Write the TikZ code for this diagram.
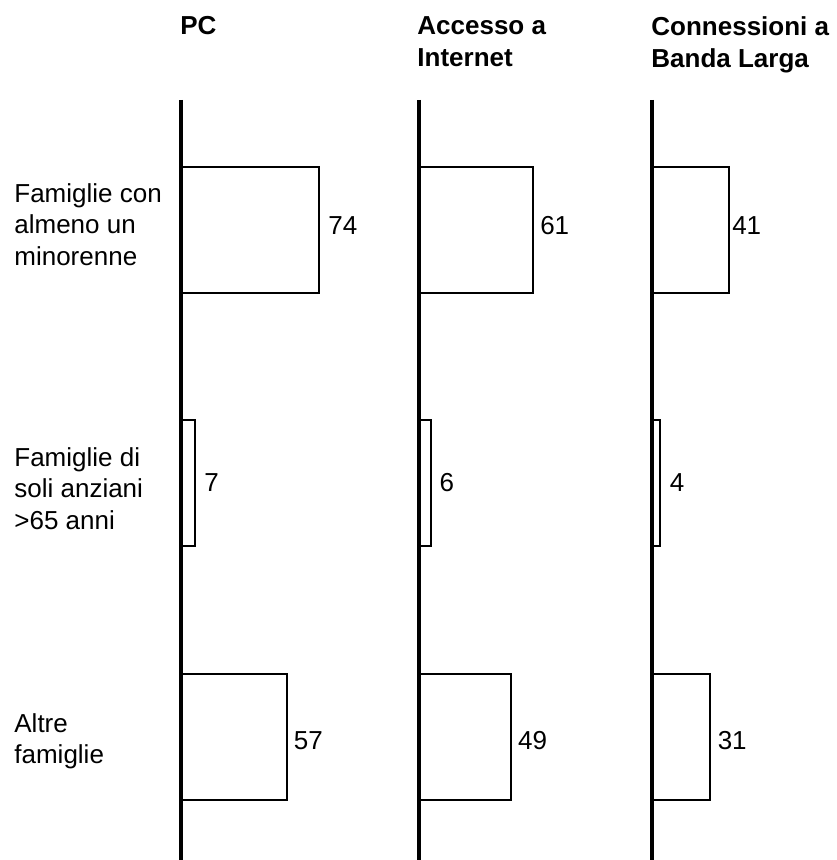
\documentclass[tikz,border=0pt]{standalone}
\usepackage{fontspec}
\setmainfont{Liberation Sans}
\usetikzlibrary{positioning}

\begin{document}
\begin{tikzpicture}[x = 0.5pt, y = -0.5pt,
		axis/.style={line width = 2pt},
		bar/.style={rectangle, draw, line width = 1pt, inner sep = 0pt, anchor = north west, minimum height = 63pt, minimum width = #1*0.925pt},
		value/.style={inner sep = 0pt, font = \fontsize{13}{15.75}\selectfont},
		header/.style={inner sep = 0pt, anchor = north west, align = left, font = \fontsize{13}{16}\selectfont\bfseries},
		group/.style={inner sep = 0pt, anchor = north west, align = left, font = \fontsize{13}{15.75}\selectfont}
	]
	\useasboundingbox (0, 0) rectangle (836, 860);
	
	\node[header] (pc) at (180, 16) {PC};
	\node[header] (net) at (417, 16) {Accesso a\\Internet};
	\node[header] (broad) at (651, 16) {Connessioni a\\Banda Larga};
	
	\node[group] (minors) at (14, 183) {Famiglie con\\almeno un\\minorenne};
	\node[group] (elderly) at (14, 447) {Famiglie di\\soli anziani\\>65 anni};
	\node[group] (others) at (14, 713) {Altre\\famiglie};
	
	\node[bar = 74] (pc1) at (181, 166) {};
	\node[value, right = 4pt of pc1, yshift = 2pt] {74};
	\node[bar = 7] (pc2) at (181, 419) {};
	\node[value, right = 4pt of pc2] {7};
	\node[bar = 57] (pc3) at (181, 673) {};
	\node[value, right = 2.5pt of pc3, yshift = -1.75pt] {57};
	
	\node[bar = 61] (net1) at (419, 166) {};
	\node[value, right = 3pt of net1, yshift = 2pt] {61};
	\node[bar = 6] (net2) at (419, 419) {};
	\node[value, right = 3.5pt of net2] {6};
	\node[bar = 49] (net3) at (419, 673) {};
	\node[value, right = 3pt of net3, yshift = -1.75pt] {49};
	
	\node[bar = 41] (broad1) at (652, 166) {};
	\node[value, right = 1pt of broad1, yshift = 2pt] {41};
	\node[bar = 4] (broad2) at (652, 419) {};
	\node[value, right = 4pt of broad2] {4};
	\node[bar = 31] (broad3) at (652, 673) {};
	\node[value, right = 3pt of broad3, yshift = -1.75pt] {31};
	
	\coordinate (pcTop) at (181, 100);
	\coordinate (pcBottom) at (181, 860);
	\coordinate (netTop) at (419, 100);
	\coordinate (netBottom) at (419, 860);
	\coordinate (broadTop) at (652, 100);
	\coordinate (broadBottom) at (652, 860);
	
	\draw[axis] (pcTop) -- (pcBottom);
	\draw[axis] (netTop) -- (netBottom);
	\draw[axis] (broadTop) -- (broadBottom);
	
\end{tikzpicture}
\end{document}
